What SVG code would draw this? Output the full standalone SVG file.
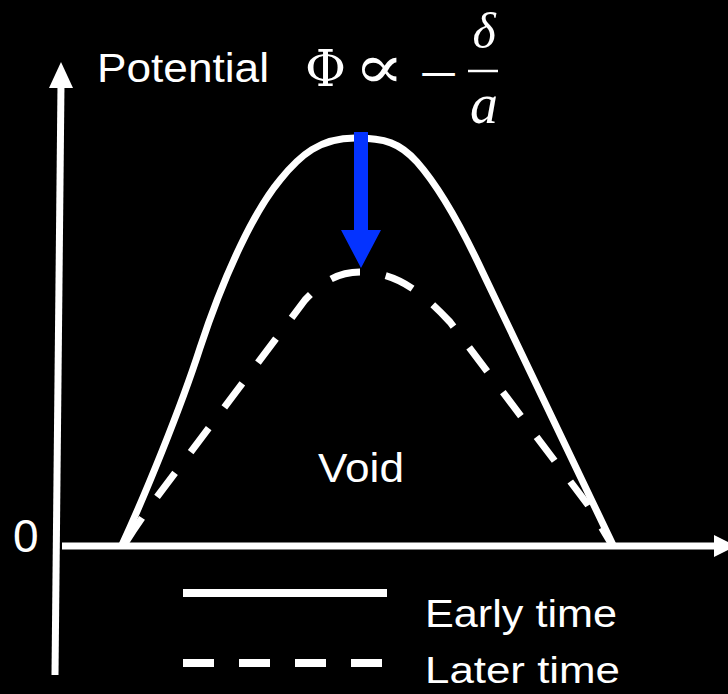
<svg xmlns="http://www.w3.org/2000/svg" width="728" height="694" viewBox="0 0 728 694">
<style>
.axis{stroke:#fff;stroke-width:7;fill:none}
.curve{stroke:#fff;stroke-width:7;fill:none;stroke-linejoin:round}
.dash{stroke:#fff;stroke-width:7;fill:none;stroke-dasharray:30 26}
.lbl{font-family:"Liberation Sans",Arial,sans-serif;fill:#fff}
.math{font-family:"Liberation Serif","DejaVu Serif",serif;fill:#fff}
.sym{font-family:"DejaVu Serif","DejaVu Sans",serif;fill:#fff}
</style>
<rect x="0" y="0" width="728" height="694" fill="#000"/>
<g id="axes">
<line class="axis" x1="61" y1="84" x2="55" y2="675"/>
<polygon points="61,62 49,88 73,88" fill="#fff"/>
<line class="axis" x1="62" y1="546" x2="718" y2="546"/>
<polygon points="736,546 714,535 714,557" fill="#fff"/>
<text class="lbl" x="13" y="552" font-size="46">0</text>
</g>
<g id="early-curve">
<path class="curve" d="M122,545 C145,495 180,410 200,348 C225,272 255,210 280,180 C300,155 320,138 355,138 C385,138 400,143 417,162 C440,188 462,228 483,273 L613,545"/>
</g>
<g id="later-curve">
<path class="dash" d="M360,272 C338,272 322,282 305,300 L157,497 Q140,520 124,545"/>
<path class="dash" style="stroke-dashoffset:30" d="M360,272 C395,272 420,290 450,322 L588,505 L612,545"/>
</g>
<g id="connectors">
<path d="M354,132 H368 V230 H381 L361,268 L341,230 H354 Z" fill="#0433ff"/>
</g>
<g id="labels">
<text class="lbl" x="97" y="82" font-size="40" textLength="172" lengthAdjust="spacingAndGlyphs">Potential</text>
<text class="sym" x="305" y="86" font-size="50">Φ</text>
<text class="sym" transform="translate(354,88) scale(1.2,1)" font-size="62">∝</text>
<text class="sym" transform="translate(417,87) scale(1.3,1)" font-size="40">−</text>
<line x1="468" y1="71" x2="498" y2="71" stroke="#fff" stroke-width="2.5"/>
<text class="math" x="484" y="48" font-size="50" font-style="italic" text-anchor="middle">δ</text>
<text class="math" x="484" y="123" font-size="56" font-style="italic" text-anchor="middle">a</text>
<text class="lbl" x="318" y="482" font-size="40" textLength="86" lengthAdjust="spacingAndGlyphs">Void</text>
</g>
<g id="legend">
<line x1="183" y1="593" x2="387" y2="593" stroke="#fff" stroke-width="8"/>
<line x1="183" y1="663" x2="385" y2="663" stroke="#fff" stroke-width="8" stroke-dasharray="31 25"/>
<text class="lbl" x="425" y="627" font-size="38" textLength="192" lengthAdjust="spacingAndGlyphs">Early time</text>
<text class="lbl" x="425" y="683" font-size="37" textLength="195" lengthAdjust="spacingAndGlyphs">Later time</text>
</g>
</svg>
